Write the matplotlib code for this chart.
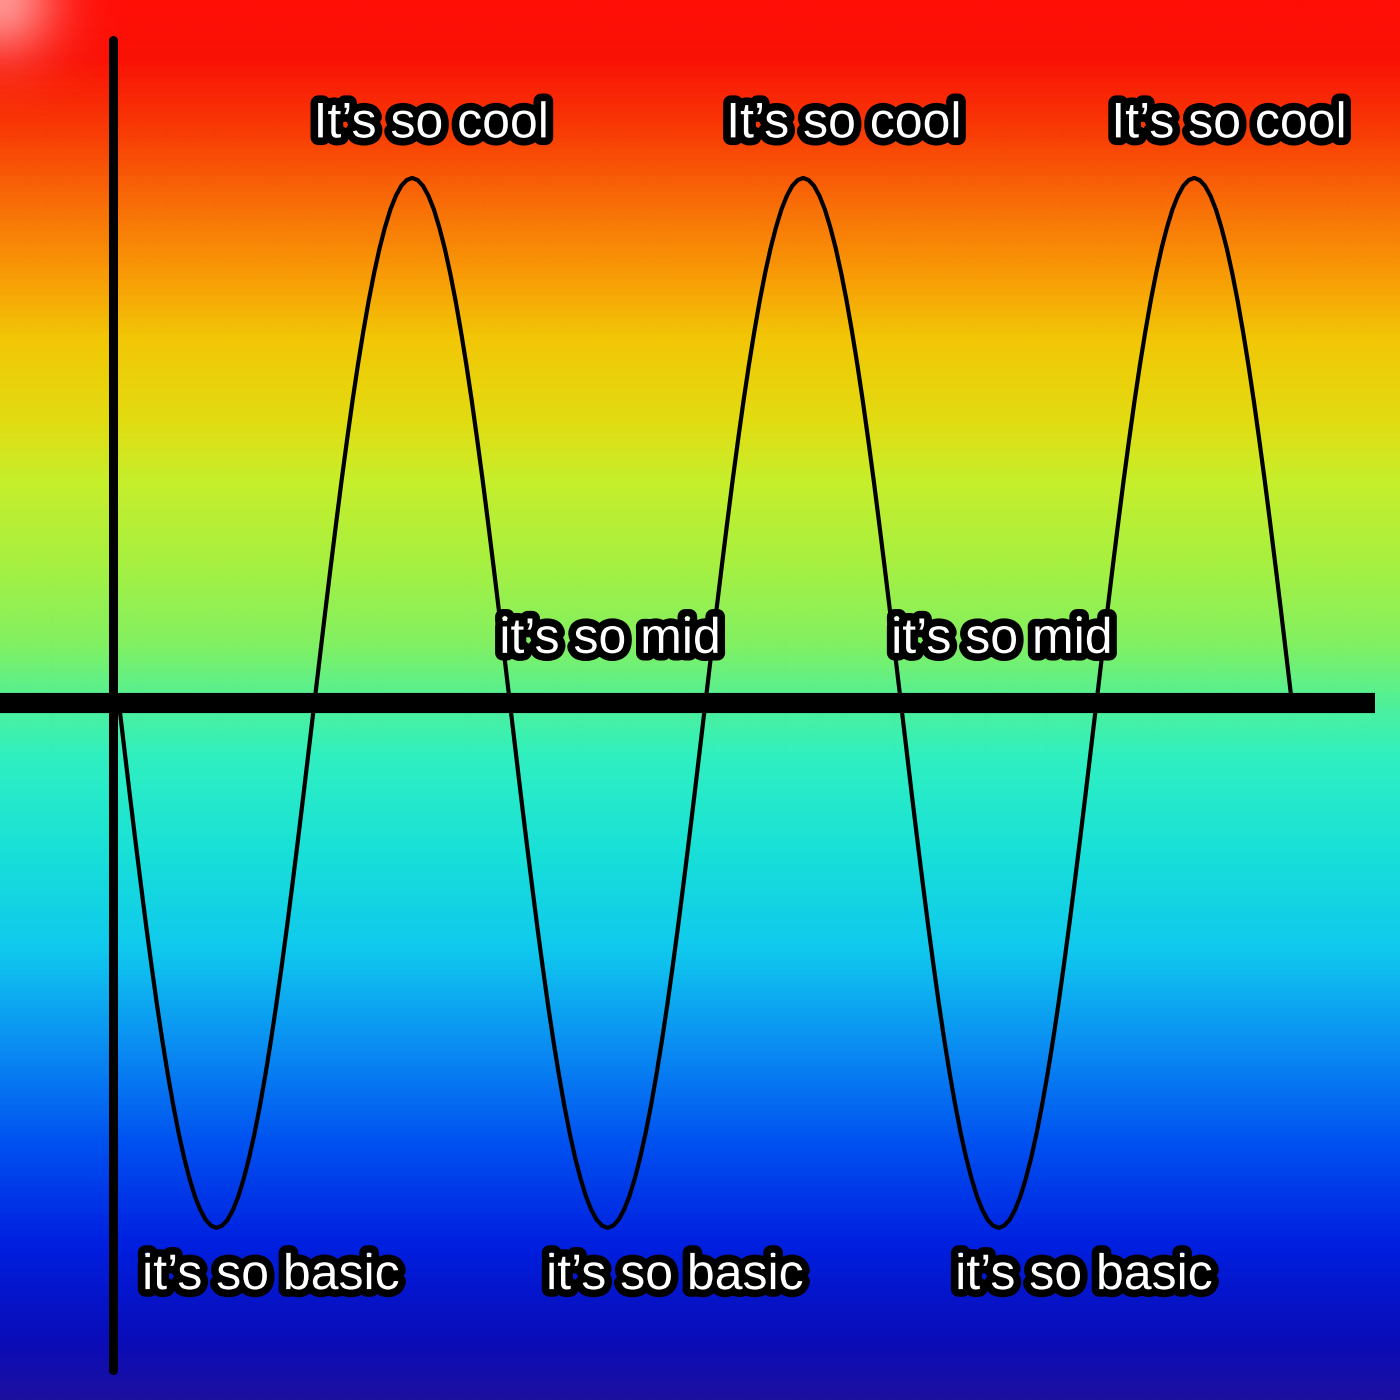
import numpy as np
import matplotlib.pyplot as plt
import matplotlib.patheffects as pe
from matplotlib.colors import LinearSegmentedColormap

# background colour stops, read top (0) to bottom (1)
bg_pos = [0.0, 0.04, 0.09, 0.14, 0.20, 0.24, 0.30, 0.34, 0.40, 0.46, 0.50, 0.54,
          0.61, 0.68, 0.75, 0.82, 0.89, 0.96, 1.0]
bg_colors = ['#ff0e06', '#fa1206', '#f83a05', '#f86a08', '#f8a006', '#f2c606',
             '#e2dc12', '#c8ee2a', '#a8f040', '#82f062', '#52f096', '#30f0c0',
             '#18e0d8', '#10c8ee', '#0a8cf2', '#0050f0', '#0020e0', '#0a0cb8', '#1c10a0']

# wave samples, 72 per period
wave_y = [
    0, -.087, -.174, -.259, -.342, -.423, -.5, -.574, -.643, -.707, -.766, -.819, -.866, -.906, -.94, -.966, -.985, -.996,
    -1, -.996, -.985, -.966, -.94, -.906, -.866, -.819, -.766, -.707, -.643, -.574, -.5, -.423, -.342, -.259, -.174, -.087,
    0, .087, .174, .259, .342, .423, .5, .574, .643, .707, .766, .819, .866, .906, .94, .966, .985, .996,
    1, .996, .985, .966, .94, .906, .866, .819, .766, .707, .643, .574, .5, .423, .342, .259, .174, .087,
    0, -.087, -.174, -.259, -.342, -.423, -.5, -.574, -.643, -.707, -.766, -.819, -.866, -.906, -.94, -.966, -.985, -.996,
    -1, -.996, -.985, -.966, -.94, -.906, -.866, -.819, -.766, -.707, -.643, -.574, -.5, -.423, -.342, -.259, -.174, -.087,
    0, .087, .174, .259, .342, .423, .5, .574, .643, .707, .766, .819, .866, .906, .94, .966, .985, .996,
    1, .996, .985, .966, .94, .906, .866, .819, .766, .707, .643, .574, .5, .423, .342, .259, .174, .087,
    0, -.087, -.174, -.259, -.342, -.423, -.5, -.574, -.643, -.707, -.766, -.819, -.866, -.906, -.94, -.966, -.985, -.996,
    -1, -.996, -.985, -.966, -.94, -.906, -.866, -.819, -.766, -.707, -.643, -.574, -.5, -.423, -.342, -.259, -.174, -.087,
    0, .087, .174, .259, .342, .423, .5, .574, .643, .707, .766, .819, .866, .906, .94, .966, .985, .996,
    1, .996, .985, .966, .94, .906, .866, .819, .766, .707, .643, .574, .5, .423, .342, .259, .174, .087,
    0]
wave_start, wave_end = 0.015, 3.0
wave_x = np.linspace(wave_start, wave_end, len(wave_y))

cool_x = [0.81, 1.86, 2.84]
cool_y = 1.102
mid_x = [1.265, 2.262]
mid_y = 0.12
basic_x = [0.402, 1.43, 2.471]
basic_y = -1.092

xmin, xmax = -0.2875, 3.275
ymin, ymax = -1.328, 1.339

fig = plt.figure(figsize=(14, 14), dpi=100)
ax = fig.add_axes([0, 0, 1, 1])
ax.set_xlim(xmin, xmax)
ax.set_ylim(ymin, ymax)
ax.axis('off')

cmap = LinearSegmentedColormap.from_list('bg', list(zip(bg_pos, bg_colors)))
grad = np.linspace(0, 1, 700).reshape(-1, 1)
ax.imshow(grad, cmap=cmap, extent=[xmin, xmax, ymin, ymax], aspect='auto',
          origin='upper', zorder=0, interpolation='bilinear')

# whitish glow in the top-left corner
yy, xx = np.mgrid[0:200, 0:200]
glow = np.zeros((200, 200, 4))
glow[..., 0] = 1.0
glow[..., 1] = 0.8
glow[..., 2] = 0.8
glow[..., 3] = 0.7 * np.exp(-(xx**2 + yy**2) / (2 * 40.0**2))
ax.imshow(glow, extent=[xmin, xmin + 200 / 393, ymax - 200 / 525, ymax],
          aspect='auto', origin='upper', zorder=1)

# axes
ax.plot([xmin, 3.211], [0, 0], color='black', lw=14.5, solid_capstyle='butt', zorder=3)
ax.plot([0, 0], [-1.27, 1.263], color='black', lw=6.5, solid_capstyle='round', zorder=3)

# wave
ax.plot(wave_x, wave_y, color='black', lw=3, zorder=4)

stroke = [pe.Stroke(linewidth=11, foreground='black', joinstyle='round'), pe.Normal()]
tkw = dict(color='white', fontsize=36, family='Liberation Sans',
           ha='center', va='center', zorder=5, path_effects=stroke)
for x in cool_x:
    ax.text(x, cool_y, "It’s so cool", **tkw)
for x in mid_x:
    ax.text(x, mid_y, "it’s so mid", **tkw)
for x in basic_x:
    ax.text(x, basic_y, "it’s so basic", **tkw)

fig.savefig('out.png', dpi=100)
